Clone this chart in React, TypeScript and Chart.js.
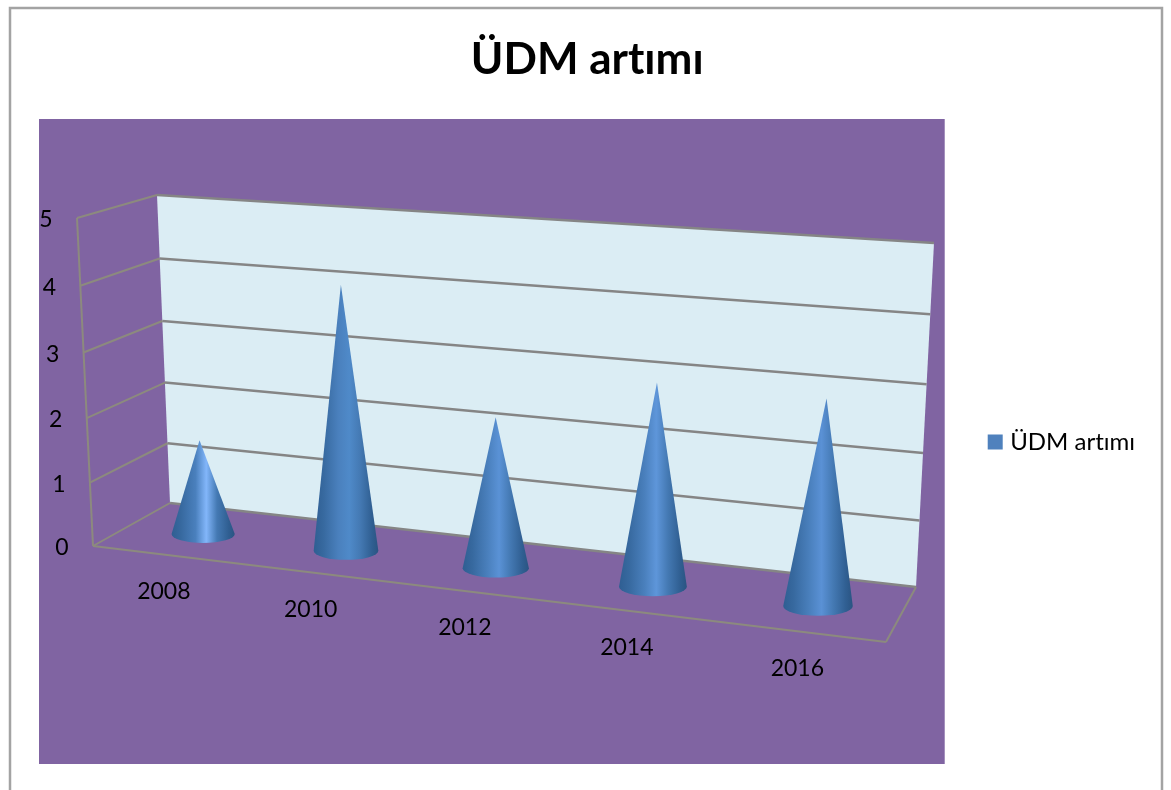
import React, { useEffect, useRef } from "react";
import { Chart, registerables } from "chart.js";

Chart.register(...registerables);

const categories = ["2008", "2010", "2012", "2014", "2016"];
const seriesName = "ÜDM artımı";
const seriesValues = [1.5, 4.08, 2.3, 3.02, 3];
const yMin = 0;
const yMax = 5;
const yStep = 1;
const coneHighlights = ["#82b6fa", "#4f8ac9", "#5a92d6", "#5e96da", "#5a91d5"];

type P = { x: number; y: number };
const BACK = { a: { x: 170, y: 503 }, b: { x: 916, y: 587 }, c: { x: 934, y: 243 }, d: { x: 157, y: 195 } };
const FRONT = { a: { x: 93, y: 546 }, b: { x: 886, y: 642 }, c: { x: 906, y: 273 }, d: { x: 77, y: 218 } };
const CONE_SHIFT = { x: 2.5, y: 1.5 };
const FONT = "Lato, 'Open Sans', sans-serif";

function homography(q: { a: P; b: P; c: P; d: P }) {
  const { a: A, b: B, c: C, d: D } = q;
  const dx1 = B.x - C.x, dx2 = D.x - C.x, sx = A.x - B.x + C.x - D.x;
  const dy1 = B.y - C.y, dy2 = D.y - C.y, sy = A.y - B.y + C.y - D.y;
  const den = dx1 * dy2 - dx2 * dy1;
  const g = (sx * dy2 - dx2 * sy) / den;
  const h = (dx1 * sy - sx * dy1) / den;
  return (u: number, v: number): P => {
    const w = g * u + h * v + 1;
    return {
      x: ((B.x - A.x + g * B.x) * u + (D.x - A.x + h * D.x) * v + A.x) / w,
      y: ((B.y - A.y + g * B.y) * u + (D.y - A.y + h * D.y) * v + A.y) / w,
    };
  };
}
const frontMap = homography(FRONT);
const backMap = homography(BACK);
const project = (u: number, v: number, depth: number): P => {
  const f = frontMap(u, v);
  const b = backMap(u, v);
  return { x: f.x + (b.x - f.x) * depth + CONE_SHIFT.x, y: f.y + (b.y - f.y) * depth + CONE_SHIFT.y };
};

const line = (ctx: CanvasRenderingContext2D, p: P, q: P) => {
  ctx.beginPath();
  ctx.moveTo(p.x, p.y);
  ctx.lineTo(q.x, q.y);
  ctx.stroke();
};

const conePlugin = {
  id: "cone3d",
  beforeDraw(chart: any) {
    const { ctx } = chart;
    (ctx as any).textRendering = "optimizeSpeed";
    ctx.save();
    ctx.strokeStyle = "#a3a3a3";
    ctx.lineWidth = 2.5;
    ctx.beginPath();
    ctx.moveTo(10, 800);
    ctx.lineTo(10, 8);
    ctx.lineTo(1162, 8);
    ctx.lineTo(1162, 800);
    ctx.stroke();
    const a = chart.chartArea;
    ctx.fillStyle = "#8064a2";
    ctx.fillRect(a.left, a.top, a.right - a.left, a.bottom - a.top);
    ctx.restore();
  },
  afterLayout(chart: any) {
    const l = chart.legend;
    l.top += 50;
    l.bottom += 50;
    const t = chart.titleBlock;
    t.left -= 5;
    t.right -= 5;
  },
  beforeDatasetsDraw(chart: any) {
    const { ctx } = chart;
    const yS = chart.scales.y;
    const xS = chart.scales.x;
    const area = chart.chartArea;
    const vOf = (val: number) => (area.bottom - yS.getPixelForValue(val)) / (area.bottom - area.top);
    ctx.save();
    ctx.fillStyle = "#dbedf4";
    ctx.beginPath();
    ctx.moveTo(BACK.a.x, BACK.a.y);
    ctx.lineTo(BACK.b.x, BACK.b.y);
    ctx.lineTo(BACK.c.x, BACK.c.y);
    ctx.lineTo(BACK.d.x, BACK.d.y);
    ctx.closePath();
    ctx.fill();

    yS.ticks.forEach((t: any) => {
      const v = vOf(t.value);
      ctx.strokeStyle = "#858585";
      ctx.lineWidth = 2.5;
      line(ctx, backMap(0, v), backMap(1, v));
      ctx.strokeStyle = "#8c8a7e";
      ctx.lineWidth = 2;
      line(ctx, frontMap(0, v), backMap(0, v));
      ctx.fillStyle = "#000";
      ctx.font = `23px ${FONT}`;
      ctx.textAlign = "center";
      ctx.textBaseline = "middle";
      const p = frontMap(0, v);
      ctx.fillText(String(t.label), p.x - 31, p.y + 2);
    });

    ctx.strokeStyle = "#8c8a7e";
    ctx.lineWidth = 2;
    line(ctx, frontMap(0, 0), frontMap(0, 1));
    line(ctx, frontMap(0, 0), frontMap(1, 0));
    line(ctx, frontMap(1, 0), backMap(1, 0));

    categories.forEach((_, i) => {
      const u = (xS.getPixelForValue(i) - area.left) / (area.right - area.left);
      const p = frontMap(u, 0);
      ctx.fillStyle = "#000";
      ctx.font = `23px ${FONT}`;
      ctx.textAlign = "center";
      ctx.textBaseline = "middle";
      ctx.fillText(xS.getLabelForValue(i), p.x, p.y + 37);
    });
    ctx.restore();
  },
  beforeDatasetDraw(chart: any, args: any) {
    const { ctx } = chart;
    const area = chart.chartArea;
    const W = area.right - area.left;
    const H = area.bottom - area.top;
    const depth = 0.5;
    chart.getDatasetMeta(args.index).data.forEach((bar: any, i: number) => {
      const u = (bar.x - area.left) / W;
      const halfU = bar.width / 2 / W;
      const v = (area.bottom - bar.y) / H;
      const l = project(u - halfU, 0, depth);
      const r = project(u + halfU, 0, depth);
      const tip = project(u, v, depth);
      const cx = (l.x + r.x) / 2;
      const cy = (l.y + r.y) / 2;
      const rx = Math.sqrt(((r.x - l.x) / 2) * bar.width * 0.39);
      const ry = rx * 0.28;
      const g = ctx.createLinearGradient(cx - rx, 0, cx + rx, 0);
      g.addColorStop(0, "#2f5e92");
      g.addColorStop(0.15, "#37699f");
      g.addColorStop(0.38, "#4a80bd");
      g.addColorStop(0.55, coneHighlights[i]);
      g.addColorStop(0.72, "#4479b3");
      g.addColorStop(0.9, "#305f92");
      g.addColorStop(1, "#2a5482");
      ctx.save();
      ctx.fillStyle = g;
      ctx.beginPath();
      ctx.moveTo(tip.x, tip.y);
      ctx.lineTo(cx + rx, cy);
      ctx.ellipse(cx, cy, rx, ry, 0, 0, Math.PI);
      ctx.closePath();
      ctx.fill();
      ctx.restore();
    });
    return false;
  },
};

export default function App() {
  const ref = useRef<HTMLCanvasElement | null>(null);
  useEffect(() => {
    if (!ref.current) return;
    const chart = new Chart(ref.current, {
      type: "bar",
      data: {
        labels: categories,
        datasets: [
          {
            label: seriesName,
            data: seriesValues,
            backgroundColor: "#4f81bd",
            barPercentage: 0.45,
            categoryPercentage: 1,
          },
        ],
      },
      options: {
        animation: false,
        responsive: false,
        layout: { padding: { left: 39, right: 25.5, top: 20, bottom: 26 } },
        scales: {
          x: { display: false },
          y: { display: false, min: yMin, max: yMax, ticks: { stepSize: yStep } },
        },
        plugins: {
          title: {
            display: true,
            text: seriesName,
            color: "#000",
            font: { family: FONT, size: 44, weight: "bold" },
            padding: { top: 13.6, bottom: 32.6 },
          },
          legend: {
            display: true,
            position: "right",
            labels: {
              color: "#000",
              font: { family: FONT, size: 24 },
              usePointStyle: true,
              pointStyle: "rect",
              boxWidth: 6,
              boxHeight: 15,
              padding: 47.5,
            },
          },
          tooltip: { enabled: false },
        },
      },
      plugins: [conePlugin],
    } as any);
    return () => chart.destroy();
  }, []);
  return (
    <canvas
      ref={ref}
      width={1171}
      height={790}
      style={{ position: "absolute", left: 0, top: 0, display: "block", width: 1171, height: 790 }}
    />
  );
}
